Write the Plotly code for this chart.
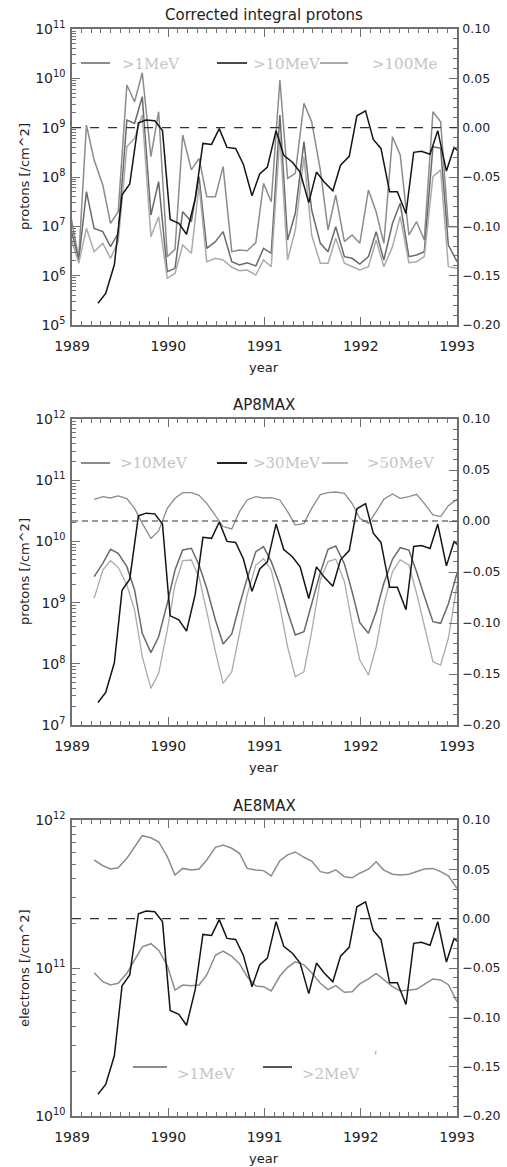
import plotly.graph_objects as go

# ---------------- data ----------------
# time grid of the flux curves (decimal year)
t_flux = [1989.23, 1989.32, 1989.40, 1989.48, 1989.57, 1989.65, 1989.73, 1989.82, 1989.90, 1989.99,
          1990.07, 1990.15, 1990.24, 1990.32, 1990.40, 1990.49, 1990.57, 1990.66, 1990.74, 1990.82,
          1990.91, 1990.99, 1991.07, 1991.16, 1991.24, 1991.32, 1991.41, 1991.49, 1991.58, 1991.66,
          1991.74, 1991.83, 1991.91, 1991.99, 1992.08, 1992.16, 1992.24, 1992.33, 1992.41, 1992.50,
          1992.58, 1992.66, 1992.75, 1992.83, 1992.91, 1993.00]
# the corrected-proton panel starts three samples earlier
t_flux_p1 = [1988.98, 1989.07, 1989.15] + t_flux
# time grid of the black index curve (right axis)
t_index = [1989.27, 1989.35, 1989.44, 1989.52, 1989.60, 1989.69, 1989.77, 1989.86, 1989.94, 1990.02,
           1990.11, 1990.19, 1990.28, 1990.36, 1990.45, 1990.53, 1990.61, 1990.70, 1990.78, 1990.87,
           1990.95, 1991.03, 1991.12, 1991.20, 1991.29, 1991.37, 1991.46, 1991.54, 1991.62, 1991.71,
           1991.79, 1991.88, 1991.96, 1992.05, 1992.13, 1992.21, 1992.30, 1992.38, 1992.47, 1992.55,
           1992.63, 1992.72, 1992.80, 1992.89, 1992.97, 1993.06]
index_vals = [-0.178, -0.168, -0.139, -0.068, -0.057, 0.005, 0.0077, 0.007, -0.003, -0.093,
              -0.097, -0.108, -0.072, -0.016, -0.017, -0.001, -0.020, -0.021, -0.037, -0.069,
              -0.047, -0.040, -0.003, -0.028, -0.035, -0.045, -0.076, -0.045, -0.055, -0.064,
              -0.038, -0.029, 0.012, 0.017, -0.012, -0.021, -0.065, -0.065, -0.087, -0.025,
              -0.024, -0.027, -0.003, -0.044, -0.020, -0.028]

# Panel 1: corrected integral protons
p1_gt1 = [1.98e7, 2.25e6, 1.13e9, 2.21e8, 6.89e7, 1.15e7, 1.98e7, 7.33e9, 3.36e9, 1.30e10,
          2.58e8, 2.11e9, 2.43e6, 3.42e6, 7.10e8, 1.39e8, 2.39e8, 3.99e7, 3.99e7, 1.62e8,
          3.06e6, 3.31e6, 3.21e6, 4.67e6, 7.44e7, 3.16e7, 9.25e9, 9.39e7, 1.19e8, 3.11e9,
          1.32e9, 1.39e8, 8.43e6, 4.31e7, 4.89e6, 6.67e6, 4.52e6, 5.45e7, 1.98e7, 4.52e6,
          6.57e8, 2.79e8, 6.67e6, 1.24e7, 5.28e6, 2.11e9, 1.32e9, 9.84e6, 9.84e6]
p1_gt10 = [1.06e7, 2.08e6, 5.04e7, 9.1e6, 7.8e6, 3.87e6, 7.2e6, 1.43e9, 1.22e9, 4.25e9,
           1.70e7, 8.04e7, 1.20e6, 1.41e6, 1.98e7, 1.24e7, 1.02e8, 3.58e6, 4.89e6, 7.8e6,
           1.92e6, 1.65e6, 1.83e6, 1.57e6, 3.58e6, 2.84e6, 1.81e9, 5.28e6, 1.84e7, 5.2e8,
           2.14e7, 4.52e6, 3.06e6, 9.84e6, 2.43e6, 2.25e6, 1.72e6, 2.43e6, 7.8e6, 2.08e6,
           1.15e7, 2.93e7, 2.43e6, 2.62e6, 3.06e6, 4.12e8, 3.81e8, 4.19e6, 1.92e6]
p1_gt100 = [6.67e6, 1.78e6, 9.1e6, 3.06e6, 4.52e6, 2.25e6, 4.89e6, 4.12e8, 6.08e8, 1.81e9,
            6.18e6, 1.57e7, 8.83e5, 1.11e6, 4.19e6, 2.84e6, 6.89e7, 1.92e6, 2.25e6, 2.08e6,
            1.48e6, 1.26e6, 1.30e6, 1.03e6, 2.08e6, 1.52e6, 6.57e8, 2.08e6, 8.43e6, 2.58e8,
            6.67e6, 1.78e6, 1.78e6, 5.71e6, 1.78e6, 1.52e6, 1.30e6, 1.52e6, 5.28e6, 1.52e6,
            3.87e6, 1.57e7, 1.83e6, 1.92e6, 2.43e6, 1.02e8, 1.39e8, 1.52e6, 1.41e6]

# Panel 2: AP8MAX
p2_gt10 = [4.87e10, 5.38e10, 5.12e10, 5.52e10, 4.99e10, 3.47e10, 1.97e10, 1.12e10, 1.48e10, 3.47e10,
           5.06e10, 6.25e10, 6.25e10, 5.66e10, 4.19e10, 2.60e10, 1.75e10, 1.60e10, 3.06e10, 4.75e10,
           5.38e10, 5.12e10, 5.19e10, 4.75e10, 3.06e10, 1.85e10, 1.97e10, 3.47e10, 5.80e10, 6.25e10,
           6.41e10, 6.11e10, 4.19e10, 2.38e10, 1.97e10, 3.06e10, 4.87e10, 5.95e10, 5.06e10, 5.38e10,
           5.88e10, 4.19e10, 2.70e10, 2.54e10, 3.83e10, 4.87e10]
p2_gt30 = [2.65e9, 4.38e9, 7.43e9, 6.38e9, 3.86e9, 1.61e9, 3.15e8, 1.52e8, 2.77e8, 9.73e8,
           3.41e9, 7.23e9, 7.71e9, 4.11e9, 1.71e9, 5.20e8, 2.11e8, 3.07e8, 9.14e8, 2.49e9,
           6.79e9, 8.20e9, 4.67e9, 1.94e9, 7.11e8, 2.96e8, 3.35e8, 9.48e8, 3.08e9, 7.43e9,
           8.41e9, 4.27e9, 1.51e9, 4.70e8, 3.15e8, 7.11e8, 2.07e9, 5.09e9, 7.90e9, 7.23e9,
           3.20e9, 1.28e9, 4.87e8, 4.59e8, 9.48e8, 3.01e9]
p2_gt50 = [1.17e9, 3.41e9, 4.84e9, 3.77e9, 1.94e9, 7.57e8, 1.31e8, 3.97e7, 6.99e7, 3.57e8,
           1.94e9, 4.84e9, 4.97e9, 2.59e9, 7.11e8, 1.58e8, 4.80e7, 7.43e7, 3.15e8, 1.33e9,
           4.11e9, 5.22e9, 3.41e9, 8.57e8, 1.90e8, 6.16e7, 7.43e7, 3.35e8, 2.34e9, 4.67e9,
           5.15e9, 2.20e9, 4.59e8, 1.15e8, 6.56e7, 1.90e8, 9.14e8, 3.20e9, 4.97e9, 4.11e9,
           1.42e9, 4.31e8, 1.08e8, 9.55e7, 2.61e8, 1.94e9]

# Panel 3: AE8MAX
p3_gt1 = [5.37e11, 4.91e11, 4.67e11, 4.76e11, 5.51e11, 6.53e11, 7.83e11, 7.59e11, 7.13e11, 5.65e11,
          4.25e11, 4.71e11, 4.59e11, 4.67e11, 5.37e11, 6.53e11, 6.78e11, 6.44e11, 5.96e11, 4.71e11,
          4.59e11, 4.55e11, 4.19e11, 5.31e11, 5.81e11, 6.08e11, 5.60e11, 5.28e11, 4.48e11, 4.37e11,
          4.61e11, 4.14e11, 4.07e11, 4.37e11, 4.65e11, 5.22e11, 4.59e11, 4.30e11, 4.25e11, 4.30e11,
          4.46e11, 4.67e11, 4.71e11, 4.48e11, 4.19e11, 3.45e11]
p3_gt2 = [9.30e10, 8.08e10, 7.67e10, 7.88e10, 9.20e10, 1.13e11, 1.39e11, 1.46e11, 1.32e11, 1.04e11,
          7.10e10, 7.67e10, 7.60e10, 7.67e10, 8.97e10, 1.22e11, 1.30e11, 1.20e11, 1.07e11, 8.73e10,
          7.56e10, 7.48e10, 7.00e10, 8.83e10, 1.01e11, 1.10e11, 1.05e11, 9.30e10, 7.88e10, 7.14e10,
          7.60e10, 6.85e10, 6.92e10, 7.80e10, 8.43e10, 9.20e10, 8.30e10, 7.48e10, 7.00e10, 7.06e10,
          7.18e10, 7.76e10, 8.43e10, 8.30e10, 7.71e10, 5.92e10]

year_ticks = [1989, 1990, 1991, 1992, 1993]
year_labels = ["1989", "1990", "1991", "1992", "1993"]
right_ticks = [-0.20, -0.15, -0.10, -0.05, 0.00, 0.05, 0.10]
right_labels = ["\u22120.20", "\u22120.15", "\u22120.10", "\u22120.05", "0.00", "0.05", "0.10"]
zero_level = 0.0

titles = ["Corrected integral protons", "AP8MAX", "AE8MAX"]
ytitles = ["protons [/cm^2]", "protons [/cm^2]", "electrons [/cm^2]"]
legend1 = [">1MeV", ">10MeV", ">100Me"]
legend2 = [">10MeV", ">30MeV", ">50MeV"]
legend3 = [">1MeV", ">2MeV"]

# ---------------- figure ----------------
W, H = 507, 1167
def PX(x):
    return x / W
def PY(y):
    return 1 - y / H

C_MED = "#8c8c8c"
C_DARK = "#6a6a6a"
C_LIGHT = "#ababab"
C_BLACK = "#141414"
AX = "#707070"
FONT = "DejaVu Sans"

panels = [
    dict(top=29, bot=325, dec=(5, 11)),
    dict(top=419, bot=725, dec=(7, 12)),
    dict(top=820, bot=1116, dec=(10, 12)),
]

fig = go.Figure()

def add_line(x, y, xa, ya, color, width=1.5):
    fig.add_trace(go.Scatter(x=x, y=y, mode="lines", xaxis=xa, yaxis=ya,
                             line=dict(color=color, width=width), showlegend=False,
                             hoverinfo="skip"))

# panel 1
add_line(t_flux_p1, p1_gt1, "x", "y", C_MED)
add_line(t_flux_p1, p1_gt10, "x", "y", C_DARK)
add_line(t_flux_p1, p1_gt100, "x", "y", C_LIGHT)
add_line(t_index, index_vals, "x", "y2", C_BLACK)
# panel 2
add_line(t_flux, p2_gt10, "x2", "y3", C_MED, 1.3)
add_line(t_flux, p2_gt30, "x2", "y3", C_DARK, 1.5)
add_line(t_flux, p2_gt50, "x2", "y3", C_LIGHT, 1.3)
add_line(t_index, index_vals, "x2", "y4", C_BLACK)
# panel 3
add_line(t_flux, p3_gt1, "x3", "y5", C_MED)
add_line(t_flux, p3_gt2, "x3", "y5", C_MED)
add_line(t_index, index_vals, "x3", "y6", C_BLACK)

layout = dict(width=W, height=H, margin=dict(l=0, r=0, t=0, b=0),
              paper_bgcolor="white", plot_bgcolor="white",
              font=dict(family=FONT, size=14, color="#222222"),
              showlegend=False)

shapes = []
annotations = []
xdom = [PX(72), PX(457)]
for i, p in enumerate(panels):
    n = i + 1
    xname = "xaxis" if n == 1 else f"xaxis{n}"
    yl = 2 * i + 1
    yr = 2 * i + 2
    ylname = "yaxis" if yl == 1 else f"yaxis{yl}"
    yrname = f"yaxis{yr}"
    xref = "x" if n == 1 else f"x{n}"
    ylref = "y" if yl == 1 else f"y{yl}"
    yrref = f"y{yr}"
    ydom = [PY(p["bot"]), PY(p["top"])]
    layout[xname] = dict(domain=xdom, anchor=ylref, range=[1989, 1993],
                         tickmode="array", tickvals=year_ticks, ticktext=year_labels,
                         ticks="inside", ticklen=8, tickwidth=1.3, tickcolor=AX,
                         minor=dict(ticks="inside", ticklen=4, tickwidth=1, tickcolor=AX,
                                    dtick=0.1, tick0=1989),
                         showline=True, linecolor=AX, linewidth=1.5, mirror="ticks",
                         showgrid=False, zeroline=False, automargin=False,
                         ticklabelstandoff=7,
                         tickfont=dict(size=14, family=FONT))
    d0, d1 = p["dec"]
    majv = [10.0 ** e for e in range(d0, d1 + 1)]
    majt = [f"10<sup>{e}</sup>" for e in range(d0, d1 + 1)]
    minv = [m * 10.0 ** e for e in range(d0, d1) for m in range(2, 10)]
    layout[ylname] = dict(domain=ydom, anchor=xref, type="log", range=[d0, d1],
                          tickmode="array", tickvals=majv, ticktext=majt,
                          ticks="inside", ticklen=8, tickwidth=1.3, tickcolor=AX,
                          minor=dict(ticks="inside", ticklen=4, tickwidth=1, tickcolor=AX,
                                     tickmode="array", tickvals=minv),
                          showline=True, linecolor=AX, linewidth=1.5,
                          showgrid=False, zeroline=False, automargin=False,
                          ticklabelstandoff=2,
                          tickfont=dict(size=14, family=FONT))
    layout[yrname] = dict(overlaying=ylref, anchor=xref, side="right", range=[-0.2, 0.1],
                          tickmode="array", tickvals=right_ticks, ticktext=right_labels,
                          ticks="inside", ticklen=8, tickwidth=1.3, tickcolor=AX,
                          minor=dict(ticks="inside", ticklen=4, tickwidth=1, tickcolor=AX,
                                     dtick=0.01, tick0=0),
                          showline=True, linecolor=AX, linewidth=1.5,
                          showgrid=False, zeroline=False, automargin=False,
                          ticklabelstandoff=1,
                          tickfont=dict(size=12.5, family=FONT))
    # dashed zero line of the right axis
    shapes.append(dict(type="line", xref=f"{xref} domain", x0=0, x1=1, yref=yrref,
                       y0=zero_level, y1=zero_level,
                       line=dict(color="#333333", width=1.4 if n != 2 else 1.1,
                                 dash="dash" if n != 2 else "6px,4px")))
    # titles
    annotations.append(dict(text=titles[i], x=PX(264), y=PY(p["top"] - 14), xref="paper",
                            yref="paper", showarrow=False, xanchor="center", yanchor="middle",
                            font=dict(size=15, family=FONT, color="#222222")))
    annotations.append(dict(text="year", x=PX(264), y=PY(p["bot"] + 42), xref="paper",
                            yref="paper", showarrow=False, xanchor="center", yanchor="middle",
                            font=dict(size=13, family=FONT, color="#222222")))
    annotations.append(dict(text=ytitles[i], x=PX(24), y=PY((p["top"] + p["bot"]) / 2),
                            xref="paper", yref="paper", showarrow=False, textangle=-90,
                            xanchor="center", yanchor="middle",
                            font=dict(size=13, family=FONT, color="#222222")))

LEG_TXT = "#c4c4c4"
SERIF = "DejaVu Serif"
def leg_item(x0, x1, yline, color, label, xt, ytext, width=2):
    shapes.append(dict(type="line", xref="paper", yref="paper", x0=PX(x0), x1=PX(x1),
                       y0=PY(yline), y1=PY(yline), line=dict(color=color, width=width)))
    annotations.append(dict(text=label, x=PX(xt), y=PY(ytext), xref="paper", yref="paper",
                            showarrow=False, xanchor="left", yanchor="middle",
                            font=dict(size=15, family=SERIF, color=LEG_TXT)))

# legend panel 1
leg_item(81, 110, 63, C_MED, legend1[0], 120, 64)
leg_item(217, 247, 63, "#4a4a4a", legend1[1], 251, 64)
leg_item(320, 348, 63, C_LIGHT, legend1[2], 370, 64)
# legend panel 2
leg_item(81, 110, 463, C_MED, legend2[0], 118, 463)
leg_item(217, 247, 463, "#222222", legend2[1], 251, 463)
leg_item(322, 348, 463, "#b8b8b8", legend2[2], 365, 463)
# legend panel 3
leg_item(133, 167, 1067, C_MED, legend3[0], 175, 1074)
leg_item(263, 292, 1067, "#555555", legend3[1], 300, 1074)
annotations.append(dict(text="'", x=PX(379), y=PY(1066), xref="paper", yref="paper",
                        showarrow=False, font=dict(size=12, family=SERIF, color="#999999")))

layout["shapes"] = shapes
layout["annotations"] = annotations
fig.update_layout(**layout)
fig.write_html("out.html", config={"displayModeBar": False},
               post_script="document.body.style.margin='0';document.body.style.overflow='hidden';")
